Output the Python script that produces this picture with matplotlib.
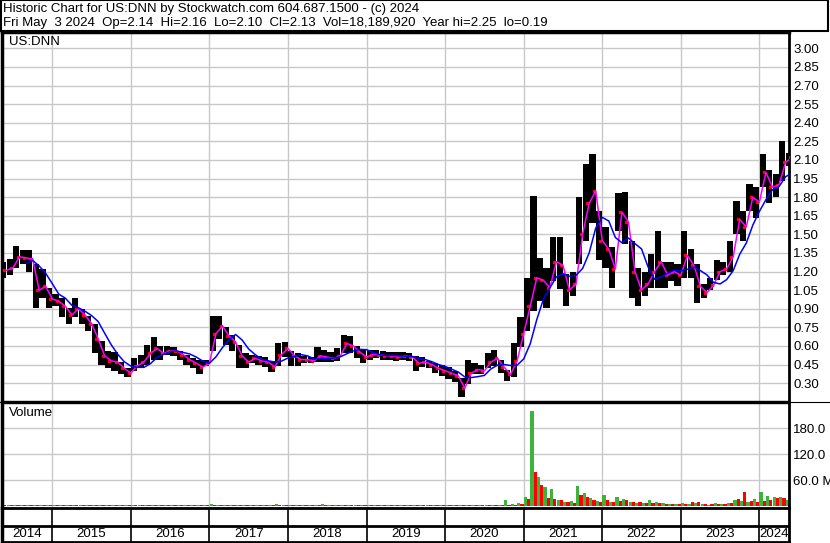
import numpy as np
import pandas as pd
import matplotlib
matplotlib.use("Agg")
import matplotlib.pyplot as plt
from matplotlib.patches import Rectangle

plt.rcParams['font.family'] = ['Liberation Sans', 'DejaVu Sans']

# monthly data, May 2014 .. May 2024
months = pd.date_range('2014-05-01', periods=121, freq='MS')

hi = [1.28, 1.30, 1.41, 1.37, 1.37, 1.26, 1.22, 1.07, 1.02, 0.99, 0.91, 0.99,
      0.90, 0.84, 0.78, 0.64, 0.56, 0.55, 0.47, 0.42, 0.50, 0.53, 0.61, 0.67,
      0.60, 0.60, 0.59, 0.56, 0.53, 0.50, 0.49, 0.49, 0.84, 0.84, 0.75, 0.69,
      0.61, 0.54, 0.53, 0.52, 0.51, 0.48, 0.62, 0.63, 0.56, 0.54, 0.52, 0.51,
      0.59, 0.57, 0.55, 0.58, 0.69, 0.68, 0.60, 0.57, 0.57, 0.57, 0.56, 0.55,
      0.55, 0.55, 0.54, 0.52, 0.51, 0.48, 0.46, 0.45, 0.43, 0.40, 0.34, 0.49,
      0.46, 0.45, 0.54, 0.57, 0.49, 0.41, 0.62, 0.83, 1.15, 1.81, 1.31, 1.23,
      1.48, 1.48, 1.18, 1.20, 1.80, 2.07, 2.15, 1.69, 1.56, 1.40, 1.83, 1.84,
      1.45, 1.23, 1.20, 1.34, 1.53, 1.28, 1.28, 1.26, 1.53, 1.38, 1.26, 1.10,
      1.15, 1.29, 1.28, 1.45, 1.77, 1.69, 1.91, 1.88, 2.15, 2.02, 1.99, 2.25,
      2.16]
lo = [1.15, 1.17, 1.23, 1.26, 1.20, 0.91, 0.99, 0.91, 0.92, 0.83, 0.78, 0.83,
      0.78, 0.72, 0.54, 0.45, 0.42, 0.40, 0.37, 0.35, 0.40, 0.42, 0.45, 0.49,
      0.49, 0.53, 0.52, 0.49, 0.45, 0.42, 0.37, 0.44, 0.56, 0.66, 0.61, 0.56,
      0.42, 0.42, 0.46, 0.45, 0.43, 0.39, 0.44, 0.51, 0.44, 0.44, 0.46, 0.46,
      0.47, 0.47, 0.47, 0.48, 0.54, 0.54, 0.50, 0.46, 0.49, 0.50, 0.49, 0.49,
      0.48, 0.49, 0.48, 0.40, 0.43, 0.42, 0.38, 0.36, 0.33, 0.31, 0.19, 0.29,
      0.37, 0.37, 0.42, 0.44, 0.38, 0.32, 0.35, 0.59, 0.72, 0.88, 0.96, 0.91,
      1.12, 1.06, 0.92, 1.00, 1.26, 1.45, 1.59, 1.29, 1.23, 1.07, 1.53, 1.42,
      0.99, 0.92, 1.00, 1.07, 1.07, 1.07, 1.12, 1.08, 1.15, 1.15, 0.95, 0.99,
      1.05, 1.13, 1.17, 1.20, 1.50, 1.45, 1.69, 1.63, 1.88, 1.75, 1.80, 1.93,
      2.05]
avg = [1.21, 1.23, 1.32, 1.31, 1.30, 1.05, 1.08, 0.98, 0.96, 0.92, 0.85, 0.90,
       0.85, 0.78, 0.66, 0.52, 0.48, 0.47, 0.42, 0.38, 0.44, 0.47, 0.54, 0.58,
       0.54, 0.56, 0.56, 0.53, 0.49, 0.46, 0.43, 0.46, 0.70, 0.76, 0.68, 0.63,
       0.52, 0.47, 0.50, 0.48, 0.47, 0.43, 0.53, 0.58, 0.52, 0.49, 0.49, 0.48,
       0.52, 0.51, 0.50, 0.52, 0.62, 0.60, 0.55, 0.51, 0.53, 0.53, 0.52, 0.52,
       0.51, 0.52, 0.51, 0.46, 0.47, 0.45, 0.42, 0.40, 0.38, 0.36, 0.26, 0.38,
       0.41, 0.40, 0.47, 0.50, 0.43, 0.37, 0.48, 0.70, 0.92, 1.15, 1.13, 1.07,
       1.28, 1.25, 1.05, 1.10, 1.50, 1.75, 1.85, 1.45, 1.38, 1.22, 1.68, 1.60,
       1.20, 1.05, 1.10, 1.20, 1.28, 1.17, 1.20, 1.17, 1.33, 1.25, 1.08, 1.03,
       1.09, 1.20, 1.22, 1.32, 1.62, 1.56, 1.80, 1.76, 2.00, 1.88, 1.90, 2.08,
       2.12]

# peak daily volume (millions) per month, up days / down days
vol_up = [2.5] * 72 + [3, 3, 4, 3, 3, 15, 5, 7,
                       22, 219, 67, 45, 40, 15, 10, 12, 47, 30, 20, 12,
                       26, 10, 22, 18, 9, 8, 7, 15, 10, 7, 6, 6,
                       8, 6, 7, 5, 4, 7, 6, 8, 14, 12, 10, 18,
                       34, 24, 22, 22, 14]
vol_dn = [3.0] * 72 + [3, 3, 3, 3, 3, 3, 4, 6,
                       16, 79, 49, 20, 18, 14, 10, 8, 26, 21, 15, 11,
                       14, 10, 12, 14, 11, 10, 8, 7, 8, 6, 5, 5,
                       5, 10, 11, 5, 5, 5, 6, 7, 18, 34, 12, 9,
                       12, 15, 20, 20, 18]
vol_up[32] = 6
vol_up[42] = 5
vol_up[49] = 5
vol_up[70] = 4
vol_dn[70] = 4

t = months.year + (months.month - 1) / 12.0
t_mid = t + 0.5 / 12
t_end = t + 1.0 / 12
dyr = 1 / 365.25

xmin, xmax = 2014.36, 2024.377
W, H = 830, 543

fig = plt.figure(figsize=(W / 100, H / 100), dpi=100)
ax_p = fig.add_axes([2 / W, 1 - 401 / H, 787 / W, 369 / H])
ax_v = fig.add_axes([2 / W, 1 - 508 / H, 787 / W, 105 / H])
ax_y = fig.add_axes([2 / W, 1 - 542 / H, 787 / W, 34 / H])

grid_c = '#c8c8c8'
years = np.arange(2015, 2025)

# price panel
for yv in np.arange(0.30, 3.01, 0.15):
    ax_p.axhline(yv, color=grid_c, lw=1, zorder=0)
for yr in years:
    ax_p.axvline(yr, color=grid_c, lw=1, zorder=0)
lo_a = np.array(lo)
hi_a = np.array(hi)
ax_p.bar(t_mid, hi_a - lo_a, bottom=lo_a, width=29 * dyr, color='black', zorder=2)
ax_p.plot(t_mid + 6 * dyr, avg, 's', color='red', ms=1.6, zorder=3)
ax_p.plot(t_end, avg, color='#ff00ff', lw=1.1, zorder=4)
blue = pd.Series(avg).rolling(4).mean()
ax_p.plot(t_end, blue, color='#0000ff', lw=1.1, zorder=5)
ax_p.set_xlim(xmin, xmax)
ax_p.set_ylim(0.156, 3.132)
ax_p.yaxis.tick_right()
ax_p.set_yticks(np.arange(0.30, 3.01, 0.15))
ax_p.set_yticklabels(['%.2f' % v for v in np.arange(0.30, 3.01, 0.15)])
ax_p.tick_params(axis='y', length=0, pad=3, labelsize=9.5)
ax_p.set_xticks([])
ax_p.text(7 / 787, 0.972, 'US:DNN', transform=ax_p.transAxes, fontsize=9.5,
          va='center', ha='left')

# volume panel
for yv in [60, 120, 180]:
    ax_v.axhline(yv, color=grid_c, lw=1, zorder=0)
for yr in years:
    ax_v.axvline(yr, color=grid_c, lw=1, zorder=0)
ax_v.bar(t + 8 * dyr, vol_up, width=15 * dyr, color='#3cb43c', zorder=2)
ax_v.bar(t + 23 * dyr, vol_dn, width=15 * dyr, color='#ff0000', zorder=2)
ax_v.set_xlim(xmin, xmax)
ax_v.set_ylim(-3.9, 238.4)
ax_v.yaxis.tick_right()
ax_v.set_yticks([60, 120, 180])
ax_v.set_yticklabels(['60.0 M', '120.0', '180.0'])
ax_v.tick_params(axis='y', length=0, pad=3, labelsize=9.5)
ax_v.set_xticks([])
ax_v.text(7 / 787, 0.9, 'Volume', transform=ax_v.transAxes, fontsize=9.5,
          va='center', ha='left')

# year strip
ax_y.set_xlim(xmin, xmax)
ax_y.set_ylim(0, 34)
ax_y.axhline(16.5, color='black', lw=2)
for yr in years:
    ax_y.axvline(yr, color='black', lw=1.2)
edges = [xmin] + list(years) + [xmax]
for k in range(len(edges) - 1):
    ax_y.text((edges[k] + edges[k + 1]) / 2, 8, str(2014 + k), ha='center',
              va='center', fontsize=9.5)
ax_y.set_xticks([])
ax_y.set_yticks([])

for ax in (ax_p, ax_v, ax_y):
    for s in ax.spines.values():
        s.set_color('black')
        s.set_linewidth(1)
    ax.spines['left'].set_linewidth(2.5)
    ax.spines['right'].set_linewidth(2)
ax_p.spines['top'].set_linewidth(2.5)
ax_y.spines['top'].set_linewidth(2)
ax_y.spines['bottom'].set_linewidth(2)

# header box
fig.patches.append(Rectangle((0.5 / W, 1 - 31 / H), 827.5 / W, 31 / H,
                             transform=fig.transFigure, fill=False,
                             edgecolor='black', lw=1.5))
fig.text(3 / W, 1 - 9 / H,
         'Historic Chart for US:DNN by Stockwatch.com 604.687.1500 - (c) 2024',
         fontsize=9.5, va='center', ha='left')
fig.text(3 / W, 1 - 23 / H,
         'Fri May  3 2024  Op=2.14  Hi=2.16  Lo=2.10  Cl=2.13  '
         'Vol=18,189,920  Year hi=2.25  lo=0.19',
         fontsize=9.5, va='center', ha='left')
fig.add_artist(plt.Line2D([0, 1], [1 - 402 / H, 1 - 402 / H],
                          transform=fig.transFigure, color='black', lw=0.8))

fig.savefig('out.png', dpi=100)
